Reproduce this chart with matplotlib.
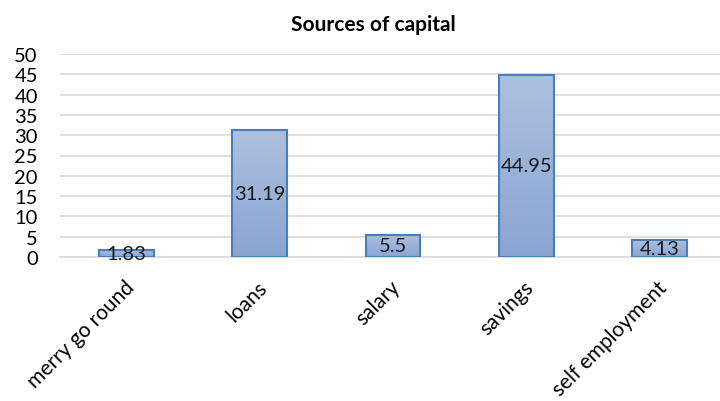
import matplotlib
matplotlib.use("Agg")
import matplotlib.pyplot as plt
import numpy as np
from matplotlib.colors import LinearSegmentedColormap
from matplotlib.transforms import ScaledTranslation

categories = ["merry go round", "loans", "salary", "savings", "self employment"]
values = [1.83, 31.19, 5.5, 44.95, 4.13]
labels = ["1.83", "31.19", "5.5", "44.95", "4.13"]
yticks = [0, 5, 10, 15, 20, 25, 30, 35, 40, 45, 50]

plt.rcParams['font.family'] = ['Lato', 'DejaVu Sans']

fig = plt.figure(figsize=(7.2, 4.02), dpi=100)
ax = fig.add_axes([60/720, 1-258/402, 666/720, (258-55)/402])

x = np.arange(len(categories))
bars = ax.bar(x, values, width=0.41, color='none', edgecolor='#4a7ebb', linewidth=1.5, zorder=3)

cmap = LinearSegmentedColormap.from_list('g', ['#8aa5d3', '#adc0de'])
grad = np.linspace(0, 1, 256).reshape(-1, 1)
for b in bars:
    x0, y0 = b.get_x(), b.get_y()
    w, h = b.get_width(), b.get_height()
    im = ax.imshow(grad, extent=[x0, x0 + w, y0, y0 + h], origin='lower',
                   aspect='auto', cmap=cmap, zorder=2)
    im.set_clip_path(b)

for xi, v, lab in zip(x, values, labels):
    ax.text(xi, v / 2, lab, ha='center', va='center', fontsize=14.5, color='#1a1a1a', zorder=4)

ax.set_xlim(-0.5, len(categories) - 0.5)
ax.set_ylim(0, 50)
ax.set_yticks(yticks)
ax.set_yticklabels([str(t) for t in yticks], fontsize=14.5)
ax.yaxis.grid(True, color='#d9d9d9', linewidth=1.2, zorder=0)
ax.set_axisbelow(True)
for s in ['top', 'right', 'left']:
    ax.spines[s].set_visible(False)
ax.spines['bottom'].set_color('#d9d9d9')
ax.spines['bottom'].set_linewidth(1.2)
ax.tick_params(axis='both', length=0)
ax.tick_params(axis='y', pad=16)
ax.set_xticks(x)
ax.set_xticklabels(categories, rotation=45, ha='right', va='top',
                   rotation_mode='anchor', fontsize=15)
ax.tick_params(axis='x', pad=14)
off = ScaledTranslation(-2/72, 0, fig.dpi_scale_trans)
for t in ax.get_xticklabels():
    t.set_transform(t.get_transform() + off)

fig.text(373/720, 1-25/402, "Sources of capital", ha='center', va='center',
         fontsize=15, fontweight='bold')

fig.savefig("out.png", dpi=100)
